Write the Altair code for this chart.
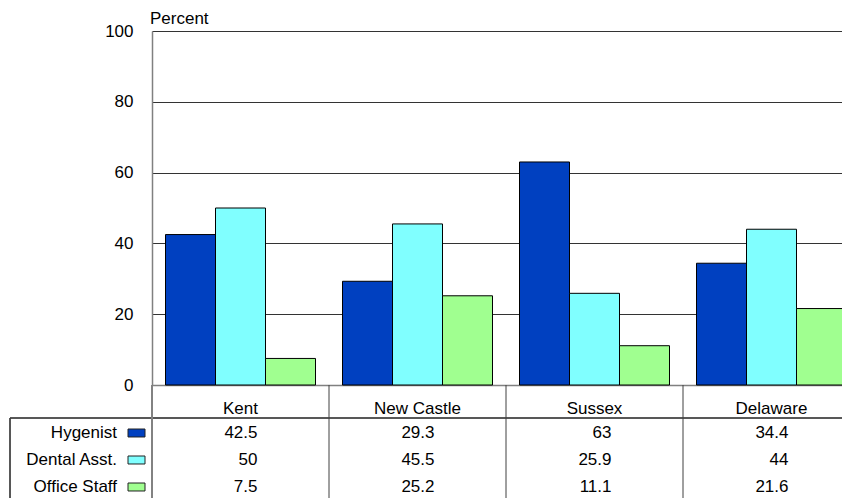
import altair as alt
import pandas as pd

categories = ["Kent", "New Castle", "Sussex", "Delaware"]
series = ["Hygenist", "Dental Asst.", "Office Staff"]
hygenist = [42.5, 29.3, 63, 34.4]
dental = [50, 45.5, 25.9, 44]
office = [7.5, 25.2, 11.1, 21.6]
colors = ["#0040C0", "#80FFFF", "#A0FF90"]
y_title = "Percent"

rows = []
for si, (s, vals) in enumerate(zip(series, [hygenist, dental, office])):
    for c, v in zip(categories, vals):
        rows.append({"category": c, "series": s, "value": v, "row": si + 1})
df = pd.DataFrame(rows)
ser_df = pd.DataFrame({"series": series, "row": [1, 2, 3]})
sep_df = pd.DataFrame({"category": categories[1:]})
title_df = pd.DataFrame({"t": [y_title]})

FONT = "Liberation Sans"
FS = 17

xscale = alt.Scale(domain=categories, range=[0, 708], paddingInner=0, paddingOuter=0)
rowscale = alt.Scale(domain=[1, 3], range=[402, 456])
cscale = alt.Scale(domain=series, range=colors)

bars = alt.Chart(df).mark_bar(stroke="black", strokeWidth=1).encode(
    x=alt.X("category:N", sort=categories, scale=xscale,
            axis=alt.Axis(title=None, ticks=False, labelAngle=0, labelPadding=15,
                          labelFontSize=FS, labelFont=FONT, labelColor="black",
                          domainColor="#808080", domainWidth=1.5)),
    xOffset=alt.XOffset("series:N", sort=series,
                        scale=alt.Scale(domain=series, paddingOuter=0.27, paddingInner=0)),
    y=alt.Y("value:Q", scale=alt.Scale(domain=[0, 100]),
            axis=alt.Axis(title=None, values=[0, 20, 40, 60, 80, 100], ticks=False,
                          labelPadding=19, labelFontSize=FS, labelFont=FONT,
                          labelColor="black", domainColor="#808080", domainWidth=1.5,
                          grid=True, gridColor="#333333", gridWidth=1)),
    color=alt.Color("series:N", scale=cscale, legend=None),
)

vals_text = alt.Chart(df).mark_text(align="right", baseline="middle", dx=17,
                                    fontSize=FS, font=FONT, color="black").encode(
    x=alt.X("category:N", sort=categories, scale=xscale),
    y=alt.Y("row:Q", scale=rowscale, axis=None),
    text=alt.Text("value:Q"),
)

row_labels = alt.Chart(ser_df).mark_text(align="right", baseline="middle",
                                         fontSize=FS, font=FONT, color="black").encode(
    x=alt.value(-35),
    y=alt.Y("row:Q", scale=rowscale, axis=None),
    text="series:N",
)

swatches = alt.Chart(ser_df).mark_point(
    shape="M-1,-0.47H1V0.47H-1Z", size=289, filled=True, opacity=1,
    stroke="#222222", strokeWidth=1).encode(
    x=alt.value(-15.5),
    y=alt.Y("row:Q", scale=rowscale, axis=None),
    color=alt.Color("series:N", scale=cscale, legend=None),
)

seps = alt.Chart(sep_df).mark_rule(color="#404040", strokeWidth=1).encode(
    x=alt.X("category:N", sort=categories, scale=xscale, bandPosition=0),
    y=alt.value(354), y2=alt.value(500),
)

hline = alt.Chart(ser_df).mark_rule(color="#404040", strokeWidth=1).encode(
    x=alt.value(-142), x2=alt.value(720), y=alt.value(387))
lborder = alt.Chart(ser_df).mark_rule(color="#404040", strokeWidth=1).encode(
    x=alt.value(-142), y=alt.value(387), y2=alt.value(500))
axisext = alt.Chart(ser_df).mark_rule(color="#808080", strokeWidth=1.5).encode(
    x=alt.value(0), y=alt.value(354), y2=alt.value(500))

title_txt = alt.Chart(title_df).mark_text(align="left", baseline="alphabetic",
                                          fontSize=17, font=FONT, color="black").encode(
    x=alt.value(-2), y=alt.value(-7), text="t:N")

chart = alt.layer(bars, seps, hline, lborder, axisext, vals_text, row_labels, swatches,
                  title_txt).resolve_scale(
    y="independent"
).properties(
    width=690, height=354,
    padding={"left": 144, "top": 23, "right": 0, "bottom": 113},
    autosize=alt.AutoSizeParams(type="none"),
).configure_view(stroke=None).configure(background="white")

chart.save("out.html", embed_options={"renderer": "svg", "actions": False})
